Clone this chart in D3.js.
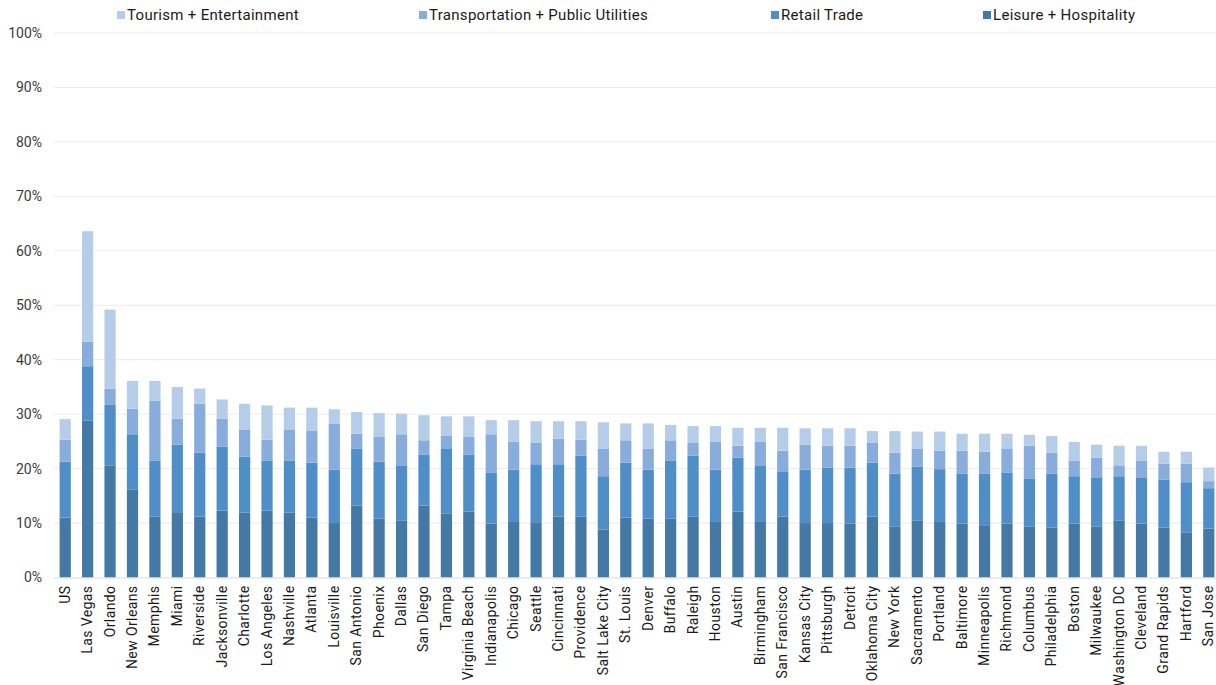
<!DOCTYPE html>
<html>
<head>
<meta charset="utf-8">
<script src="https://cdn.jsdelivr.net/npm/d3@7"></script>
<style>
  html, body { margin: 0; padding: 0; background: #fff; }
  svg { display: block; font-family: Roboto, "DejaVu Sans", sans-serif; }
</style>
</head>
<body>
<svg id="chart" width="1216" height="685"></svg>
<script>
// Metro areas, ordered by combined share of employment
const cities = ["US", "Las Vegas", "Orlando", "New Orleans", "Memphis", "Miami", "Riverside",
  "Jacksonville", "Charlotte", "Los Angeles", "Nashville", "Atlanta", "Louisville", "San Antonio",
  "Phoenix", "Dallas", "San Diego", "Tampa", "Virginia Beach", "Indianapolis", "Chicago", "Seattle",
  "Cincinnati", "Providence", "Salt Lake City", "St. Louis", "Denver", "Buffalo", "Raleigh", "Houston",
  "Austin", "Birmingham", "San Francisco", "Kansas City", "Pittsburgh", "Detroit", "Oklahoma City",
  "New York", "Sacramento", "Portland", "Baltimore", "Minneapolis", "Richmond", "Columbus",
  "Philadelphia", "Boston", "Milwaukee", "Washington DC", "Cleveland", "Grand Rapids", "Hartford",
  "San Jose"];

// Share of employment (%) per sector, bottom of the stack first
const leisureHospitality = [11.0, 28.8, 20.6, 16.1, 11.2, 12.0, 11.2, 12.3, 11.9, 12.3, 11.9, 11.0,
  10.0, 13.2, 10.8, 10.5, 13.2, 11.7, 12.1, 9.9, 10.2, 10.0, 11.2, 11.2, 8.8, 11.0, 10.8, 10.8, 11.2,
  10.2, 12.1, 10.2, 11.2, 10.0, 10.0, 9.9, 11.2, 9.4, 10.5, 10.2, 9.9, 9.6, 9.9, 9.4, 9.2, 9.9, 9.4,
  10.5, 9.9, 9.2, 8.3, 9.0];
const retailTrade = [10.3, 10.0, 11.1, 10.2, 10.3, 12.4, 11.7, 11.7, 10.3, 9.2, 9.6, 10.1,
  9.8, 10.5, 10.5, 10.1, 9.4, 11.9, 10.5, 9.4, 9.6, 10.8, 9.6, 11.2, 9.8, 10.1, 9.0, 10.7, 11.2,
  9.6, 9.9, 10.4, 8.3, 9.8, 10.2, 10.3, 9.9, 9.7, 9.9, 9.7, 9.2, 9.5, 9.4, 8.8, 9.9, 8.7, 9.0,
  8.1, 8.5, 8.8, 9.2, 7.4];
const transportUtilities = [4.0, 4.5, 3.0, 4.7, 11.0, 4.8, 9.0, 5.2, 5.0, 3.8, 5.7, 5.8,
  8.5, 2.7, 4.5, 5.7, 2.6, 2.4, 3.2, 7.0, 5.1, 3.9, 4.7, 2.9, 5.1, 4.1, 3.9, 3.7, 2.3,
  5.1, 2.2, 4.3, 3.8, 4.6, 4.0, 4.0, 3.6, 3.8, 3.2, 3.4, 4.2, 4.0, 4.3, 6.0, 3.8, 2.9, 3.6,
  2.0, 3.1, 2.9, 3.4, 1.3];
const tourismEntertainment = [3.8, 20.3, 14.5, 5.1, 3.6, 5.8, 2.8, 3.5, 4.7, 6.3, 4.0, 4.3,
  2.6, 4.0, 4.4, 3.8, 4.6, 3.6, 3.8, 2.6, 4.0, 4.0, 3.2, 3.4, 4.8, 3.1, 4.6, 2.8, 3.1,
  2.9, 3.3, 2.6, 4.2, 3.0, 3.2, 3.2, 2.2, 4.0, 3.2, 3.5, 3.1, 3.3, 2.8, 2.0, 3.1, 3.4, 2.4,
  3.6, 2.7, 2.2, 2.2, 2.5];

const seriesNames = ["Leisure + Hospitality", "Retail Trade",
  "Transportation + Public Utilities", "Tourism + Entertainment"];
const seriesColors = ["#4479a5", "#4f8ec7", "#88acdc", "#b6cde9"];
const legendOrder = ["Tourism + Entertainment", "Transportation + Public Utilities",
  "Retail Trade", "Leisure + Hospitality"];
const yTicks = [0, 10, 20, 30, 40, 50, 60, 70, 80, 90, 100];

const rows = cities.map((c, i) => ({
  city: c,
  "Leisure + Hospitality": leisureHospitality[i],
  "Retail Trade": retailTrade[i],
  "Transportation + Public Utilities": transportUtilities[i],
  "Tourism + Entertainment": tourismEntertainment[i]
}));

const svg = d3.select("#chart");
const margin = { left: 54, right: -4, top: 33, bottom: 107.5 };
const W = 1216, H = 685;

const x = d3.scaleBand()
  .domain(cities)
  .range([margin.left, W - margin.right])
  .paddingInner(0.5)
  .paddingOuter(0.25);

const y = d3.scaleLinear()
  .domain([0, 100])
  .range([H - margin.bottom, margin.top]);

const color = d3.scaleOrdinal().domain(seriesNames).range(seriesColors);

// Horizontal gridlines
svg.append("g")
  .selectAll("line")
  .data(yTicks.filter(t => t > 0))
  .join("line")
  .attr("x1", margin.left).attr("x2", W)
  .attr("y1", d => y(d)).attr("y2", d => y(d))
  .attr("stroke", "#ececec").attr("stroke-width", 1);

// Y axis labels
const yAxis = d3.axisLeft(y).tickValues(yTicks).tickFormat(d => d + "%").tickSize(0).tickPadding(12);
svg.append("g")
  .attr("transform", `translate(${margin.left},0)`)
  .call(yAxis)
  .call(g => g.select(".domain").remove())
  .call(g => g.selectAll("text")
    .attr("font-family", "Roboto, sans-serif")
    .attr("font-size", 14)
    .attr("fill", "#3a3a3a"));

// Stacked bars
const stack = d3.stack().keys(seriesNames);
const layers = stack(rows);

svg.append("g")
  .selectAll("g")
  .data(layers)
  .join("g")
  .attr("fill", d => color(d.key))
  .selectAll("rect")
  .data(d => d)
  .join("rect")
  .attr("x", d => x(d.data.city))
  .attr("width", x.bandwidth())
  .attr("y", d => y(d[1]))
  .attr("height", d => y(d[0]) - y(d[1]));

// Baseline
svg.append("line")
  .attr("x1", margin.left).attr("x2", W)
  .attr("y1", y(0) + 0.5).attr("y2", y(0) + 0.5)
  .attr("stroke", "#d9d9d9").attr("stroke-width", 1);

// Category labels, rotated
const xAxis = d3.axisBottom(x).tickSize(0).tickPadding(0);
svg.append("g")
  .attr("transform", `translate(0,${y(0)})`)
  .call(xAxis)
  .call(g => g.select(".domain").remove())
  .call(g => g.selectAll("text")
    .attr("font-family", "Roboto, sans-serif")
    .attr("font-size", 14)
    .attr("letter-spacing", "0.4px")
    .attr("fill", "#1a1a1a")
    .attr("text-anchor", "end")
    .attr("dy", "0.32em")
    .attr("transform", "translate(0,8) rotate(-90)")
    .attr("x", 0).attr("y", 0));

// Legend
const legendX = [117, 419, 771, 983];
const legend = svg.append("g");
legendOrder.forEach((name, i) => {
  const g = legend.append("g").attr("transform", `translate(${legendX[i]},15)`);
  g.append("rect").attr("x", 0).attr("y", -4).attr("width", 8).attr("height", 8)
    .attr("fill", color(name));
  g.append("text").attr("x", 10).attr("y", 0).attr("dy", "0.35em")
    .attr("font-family", "Roboto, sans-serif")
    .attr("font-size", 15)
    .attr("letter-spacing", "0.3px")
    .attr("fill", "#1a1a1a")
    .text(name);
});
</script>
</body>
</html>
